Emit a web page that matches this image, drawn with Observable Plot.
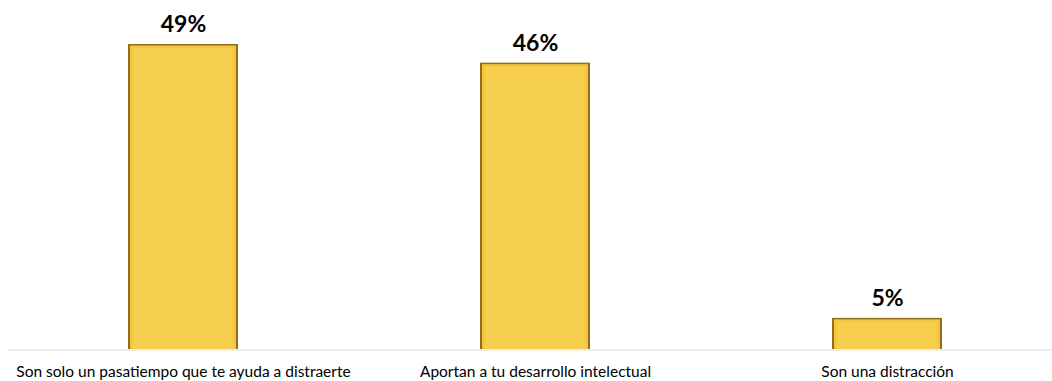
<!DOCTYPE html>
<html><head><meta charset="utf-8">
<script src="https://cdn.jsdelivr.net/npm/d3@7"></script>
<script src="https://cdn.jsdelivr.net/npm/@observablehq/plot@0.6"></script>
<style>body{margin:0;background:#fff}</style>
</head><body><div id="chart"></div>
<script>
const categories = ["Son solo un pasatiempo que te ayuda a distraerte", "Aportan a tu desarrollo intelectual", "Son una distracción"];
const values = [49, 46, 5];
const labels = ["49%", "46%", "5%"];
const data = categories.map((c, i) => ({cat: c, v: values[i], label: labels[i]}));

const chart = Plot.plot({
  width: 1052, height: 381,
  marginTop: 44, marginBottom: 32, marginLeft: 8, marginRight: 0,
  style: {fontFamily: "Lato, sans-serif", background: "#fff"},
  x: {domain: categories, range: [7, 1063], paddingInner: 0.6875, paddingOuter: 0.34375, align: 0.5},
  y: {domain: [0, 49], axis: null},
  marks: [
    Plot.ruleY([0], {stroke: "#d9d9d9", strokeWidth: 1.2, dy: 0.5}),
    Plot.barY(data, {x: "cat", y: "v", fill: "#8f6f18"}),
    Plot.barY(data, {x: "cat", y: "v", fill: "#f3c63e", insetLeft: 2, insetRight: 2, insetTop: 1.5}),
    Plot.barY(data, {x: "cat", y: "v", fill: "#f6cf4f", insetLeft: 5, insetRight: 5, insetTop: 4}),
    Plot.text(data, {x: "cat", y: "v", text: "label", dy: -20, fontSize: 23, fontWeight: "bold", fill: "#000"}),
    Plot.axisX({tickSize: 0, tickPadding: 16, fontSize: 15.5, fill: "#000", label: null})
  ]
});
document.getElementById("chart").appendChild(chart);
</script></body></html>
